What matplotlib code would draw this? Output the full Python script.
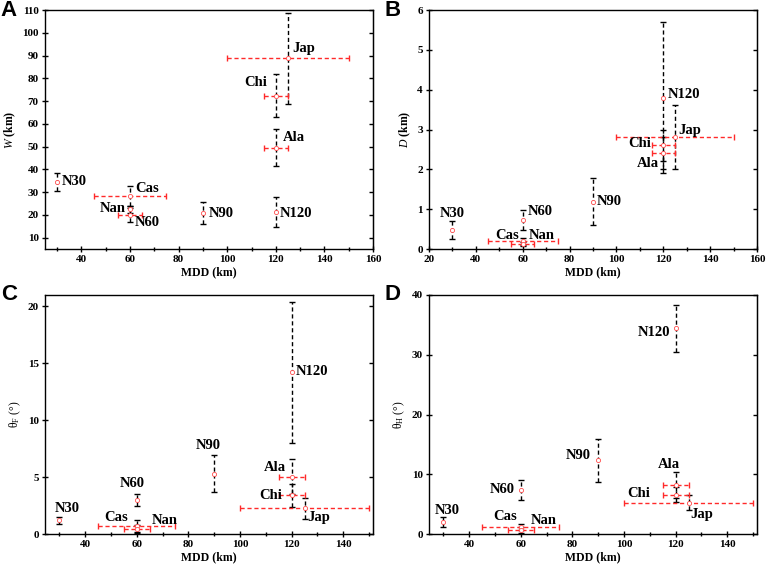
import matplotlib
matplotlib.use("Agg")
import matplotlib.pyplot as plt
from matplotlib.ticker import MultipleLocator

plt.rcParams['font.family'] = ['Liberation Serif', 'DejaVu Serif']
plt.rcParams['mathtext.fontset'] = 'custom'
plt.rcParams['mathtext.rm'] = 'Liberation Serif'
plt.rcParams['mathtext.it'] = 'Liberation Serif:italic'
plt.rcParams['mathtext.bf'] = 'Liberation Serif:bold'

# ---------------- data ----------------
names = ["N30", "N60", "N90", "N120", "Cas", "Nan", "Ala", "Chi", "Jap"]
mdd = [30, 60, 90, 120, 60, 60, 120, 120, 125]
mdd_err = [0, 0, 0, 0, 15, 5, 5, 5, 25]

W = [34.6, 22.5, 20.7, 21.4, 28.3, 20.0, 49.5, 72.4, 88.8]
W_err = [4.0, 1.5, 4.8, 6.6, 4.5, 3.0, 8.1, 9.4, 20.0]

D = [0.47, 0.72, 1.19, 3.8, 0.19, 0.12, 2.4, 2.6, 2.81]
D_err = [0.23, 0.25, 0.6, 1.9, 0.08, 0.05, 0.4, 0.4, 0.8]

thF = [1.2, 3.0, 5.3, 14.2, 0.7, 0.45, 5.05, 3.4, 2.25]
thF_err = [0.3, 0.5, 1.6, 6.2, 0.5, 0.35, 1.5, 1.0, 0.9]

thH = [2.05, 7.35, 12.35, 34.4, 1.2, 0.75, 8.2, 6.55, 5.25]
thH_err = [0.85, 1.7, 3.6, 4.0, 0.5, 0.5, 2.1, 1.25, 1.2]

# label placement (x, y, ha) for each panel, data coordinates
labels_A = {"N30": (32, 34.5, 'left'), "N60": (62, 16.5, 'left'), "N90": (92.5, 20.8, 'left'),
            "N120": (121.7, 20.8, 'left'), "Cas": (62, 31.5, 'left'), "Nan": (58.4, 23, 'right'),
            "Ala": (123, 53.8, 'left'), "Chi": (116.6, 78, 'right'), "Jap": (126.9, 92.9, 'left')}
labels_B = {"N30": (30, 0.9, 'center'), "N60": (62, 0.93, 'left'), "N90": (91.7, 1.19, 'left'),
            "N120": (122, 3.88, 'left'), "Cas": (58.5, 0.33, 'right'), "Nan": (62.7, 0.33, 'left'),
            "Ala": (118.3, 2.14, 'right'), "Chi": (114.6, 2.64, 'right'), "Jap": (126.4, 2.97, 'left')}
labels_C = {"N30": (28.4, 2.25, 'left'), "N60": (53.5, 4.44, 'left'), "N90": (83, 7.8, 'left'),
            "N120": (121.7, 14.3, 'left'), "Cas": (56.5, 1.43, 'right'), "Nan": (66, 1.17, 'left'),
            "Ala": (117.8, 5.8, 'right'), "Chi": (116.5, 3.4, 'right'), "Jap": (126, 1.43, 'left')}
labels_D = {"N30": (26.7, 3.85, 'left'), "N60": (57.7, 7.4, 'right'), "N90": (87.1, 13.1, 'right'),
            "N120": (117.8, 33.7, 'right'), "Cas": (58.7, 3.0, 'right'), "Nan": (63.9, 2.2, 'left'),
            "Ala": (117.4, 11.6, 'center'), "Chi": (110.2, 6.8, 'right'), "Jap": (125.8, 3.3, 'left')}

fig = plt.figure(figsize=(7.68, 5.64), dpi=100)
W_ax = 328 / 768
H_ax = 239 / 564
axA = fig.add_axes([45 / 768, (564 - 249) / 564, W_ax, H_ax])
axB = fig.add_axes([429 / 768, (564 - 249) / 564, W_ax, H_ax])
axC = fig.add_axes([45 / 768, (564 - 534) / 564, W_ax, H_ax])
axD = fig.add_axes([429 / 768, (564 - 534) / 564, W_ax, H_ax])


def panel(ax, yvals, yerrs, labels, xlim, ylim, xmaj, ymaj, ylabel, ylab_bold, letter):
    for i in range(len(names)):
        eb = ax.errorbar([mdd[i]], [yvals[i]], yerr=[yerrs[i]], fmt='none', ecolor='black',
                         elinewidth=1.0, capsize=2.0, capthick=1.0, zorder=2)
        eb[2][0].set_linestyle((0, (3, 2)))
        if mdd_err[i] > 0:
            eb2 = ax.errorbar([mdd[i]], [yvals[i]], xerr=[mdd_err[i]], fmt='none',
                              ecolor='#ff2a2a', elinewidth=1.0, capsize=2.0, capthick=1.0,
                              zorder=3)
            eb2[2][0].set_linestyle((0, (3, 2)))
    ax.scatter(mdd, yvals, s=9, facecolors='white', edgecolors='#ff4d4d', linewidths=0.6,
               zorder=4)
    for n, (tx, ty, ha) in labels.items():
        ax.text(tx, ty, n, ha=ha, va='center', fontsize=10.5, fontweight='bold', zorder=5)
    ax.set_xlim(*xlim)
    ax.set_ylim(*ylim)
    ax.xaxis.set_major_locator(MultipleLocator(xmaj))
    ax.xaxis.set_minor_locator(MultipleLocator(xmaj / 2))
    ax.yaxis.set_major_locator(MultipleLocator(ymaj))
    ax.tick_params(which='both', direction='inout', top=False, right=False,
                   labelsize=8, width=1.0, pad=2.5)
    ax.tick_params(which='major', length=4)
    ax.tick_params(which='minor', length=3)
    for lab in ax.get_xticklabels() + ax.get_yticklabels():
        lab.set_fontweight('bold')
    ax2 = ax.secondary_yaxis('right')
    ax2.yaxis.set_major_locator(MultipleLocator(ymaj))
    ax2.tick_params(direction='in', length=3, width=1.0, labelright=False)
    for s in ax.spines.values():
        s.set_linewidth(1.0)
    ax.set_xlabel('MDD (km)', fontsize=8.5, fontweight='bold', labelpad=1.5)
    ax.set_ylabel(ylabel, fontsize=8.5, labelpad=3,
                  fontweight='bold' if ylab_bold else 'normal')
    ax.text(-0.135, 1.0, letter, transform=ax.transAxes, family='Liberation Sans',
            fontsize=16, fontweight='bold', ha='left', va='center')


panel(axA, W, W_err, labels_A, (25, 160), (5, 110), 20, 10,
      r'$\mathbf{\it{W}}$ (km)', True, 'A')
panel(axB, D, D_err, labels_B, (20, 160), (0, 6), 20, 1,
      r'$\mathbf{\it{D}}$ (km)', True, 'B')
panel(axC, thF, thF_err, labels_C, (24.5, 151.5), (0, 21), 20, 5,
      'θ$_\\mathrm{F}$ (°)', False, 'C')
panel(axD, thH, thH_err, labels_D, (24.5, 151.5), (0, 40), 20, 10,
      'θ$_\\mathrm{H}$ (°)', False, 'D')

fig.savefig('out.png', dpi=100)
